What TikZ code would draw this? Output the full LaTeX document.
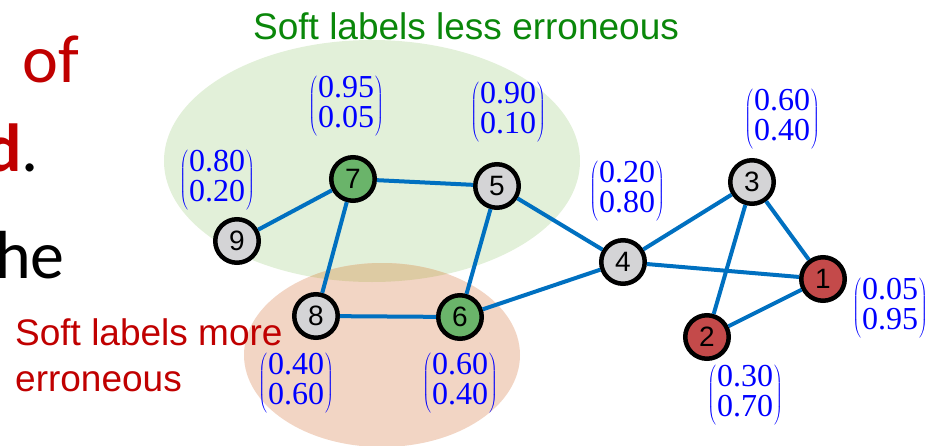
\RequirePackage{fix-cm}
\documentclass[tikz,border=0pt]{standalone}
\usepackage{fontspec}
\newfontfamily\arialf{Liberation Sans}
\newfontfamily\calib{Carlito}
\newfontfamily\serf{Liberation Serif}
\definecolor{eblue}{HTML}{0070C0}
\definecolor{pblue}{HTML}{0000FF}
\definecolor{tgreen}{HTML}{0A870A}
\definecolor{tred}{HTML}{C00000}
\definecolor{egreen}{HTML}{E2F0D9}
\definecolor{eorange}{HTML}{F2D5C4}
\definecolor{olap}{HTML}{DDCBA3}
\definecolor{cgray}{HTML}{D4D4D6}
\definecolor{cgreen}{HTML}{6AB46A}
\definecolor{cred}{HTML}{C44A4A}
\newcommand\softlab[2]{$\left(\vcenter{\hbox{\begin{tabular}{@{\kern1pt}c@{\kern1pt}}#1\\#2\end{tabular}}}\right)$}
\begin{document}
\begin{tikzpicture}[x=1pt,y=-1pt,
  vtx/.style={circle,draw=black,line width=4.5pt,minimum size=43.5pt,inner sep=0pt,
    font=\arialf\fontsize{28}{28}\selectfont},
  vgray/.style={vtx,fill=cgray},
  vgreen/.style={vtx,fill=cgreen},
  vred/.style={vtx,fill=cred},
  link/.style={draw=eblue,line width=4pt},
  prob/.style={text=pblue,inner sep=0pt,font=\serf\fontsize{32}{28}\selectfont},
  bigtxt/.style={inner sep=0pt,font=\calib\fontsize{68}{68}\selectfont},
  captxt/.style={inner sep=0pt,anchor=base west,font=\arialf\fontsize{37}{37}\selectfont}
]
\useasboundingbox (0,0) rectangle (930,445);
% regions
\fill[egreen] (372,161) ellipse [x radius=208, y radius=121];
\fill[eorange] (382,355) ellipse [x radius=138, y radius=92];
\begin{scope}
  \clip (372,161) ellipse [x radius=208, y radius=121];
  \fill[olap] (382,355) ellipse [x radius=138, y radius=92];
\end{scope}
% cut-off slide text
\node[bigtxt,anchor=base east,text=tred] (tof) at (79,82) {of};
\node[bigtxt,anchor=base east] (td) at (39,171) {\textcolor{tred}{\bfseries d}.};
\node[bigtxt,anchor=base east] (the) at (65,278) {he};
% captions
\node[captxt,text=tgreen] (cap1) at (253,39) {Soft labels less erroneous};
\node[captxt,text=tred] (cap2) at (15,345) {Soft labels more};
\node[captxt,text=tred] (cap3) at (15,391) {erroneous};
% vertices
\node[vgray]  (n9) at (237,241) {9};
\node[vgreen] (n7) at (353,179) {7};
\node[vgray]  (n5) at (497,186) {5};
\node[vgray]  (n4) at (623,262) {4};
\node[vgray]  (n3) at (752,182) {3};
\node[vred]   (n1) at (823,279) {1};
\node[vred]   (n2) at (707,337) {2};
\node[vgray]  (n8) at (316,316) {8};
\node[vgreen] (n6) at (460,317) {6};
% edges
\draw[link] (n9) -- (n7);
\draw[link] (n7) -- (n5);
\draw[link] (n7) -- (n8);
\draw[link] (n5) -- (n6);
\draw[link] (n5) -- (n4);
\draw[link] (n8) -- (n6);
\draw[link] (n6) -- (n4);
\draw[link] (n4) -- (n3);
\draw[link] (n4) -- (n1);
\draw[link] (n3) -- (n1);
\draw[link] (n3) -- (n2);
\draw[link] (n2) -- (n1);
% soft labels
\node[prob] (p9) at (217,180) {\softlab{0.80}{0.20}};
\node[prob] (p7) at (346,106) {\softlab{0.95}{0.05}};
\node[prob] (p5) at (508,112) {\softlab{0.90}{0.10}};
\node[prob] (p4) at (627,191) {\softlab{0.20}{0.80}};
\node[prob] (p3) at (782,119) {\softlab{0.60}{0.40}};
\node[prob] (p1) at (890,308) {\softlab{0.05}{0.95}};
\node[prob] (p2) at (745,395) {\softlab{0.30}{0.70}};
\node[prob] (p8) at (296,383) {\softlab{0.40}{0.60}};
\node[prob] (p6) at (460,383) {\softlab{0.60}{0.40}};
\end{tikzpicture}
\end{document}
